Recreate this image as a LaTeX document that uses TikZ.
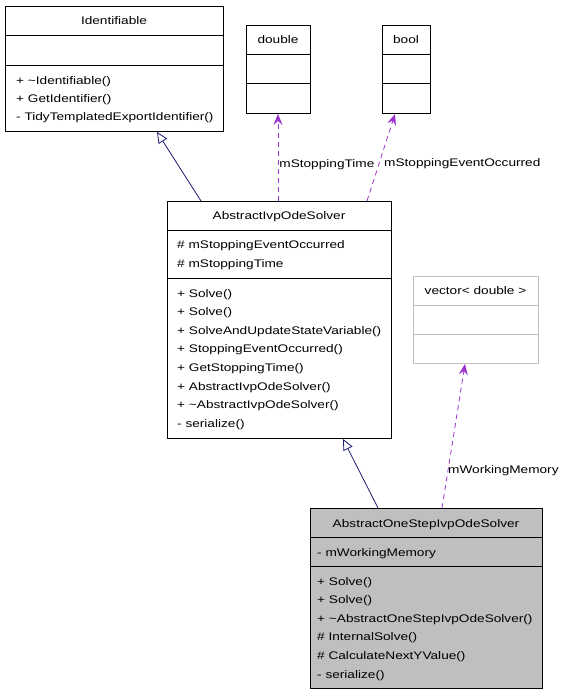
\documentclass[tikz,border=0pt]{standalone}
\usepackage{fontspec}
\setmainfont{Liberation Sans}[FakeStretch=1.24]
\usetikzlibrary{arrows.meta}
\definecolor{inh}{HTML}{191970}
\definecolor{dep}{HTML}{9A32CD}
\definecolor{gfill}{HTML}{BFBFBF}
\begin{document}
\begin{tikzpicture}[x=1pt,y=-1pt,
  every node/.style={font=\fontsize{11}{13}\selectfont, inner sep=0pt},
  umlbox/.style={draw=black, line width=1pt, anchor=north west, fill=white},
  graybox/.style={umlbox, fill=gfill},
  lightbox/.style={umlbox, draw=gfill},
  sep/.style={line width=1pt},
  txt/.style={anchor=base west},
  ttl/.style={anchor=base},
  inhline/.style={draw=inh, line width=0.8pt, -{Triangle[open,length=11pt,width=10pt,fill=white]}},
  depline/.style={draw=dep, line width=0.8pt, dash pattern=on 5pt off 4pt, -{Stealth[length=11pt,width=9pt,inset=4pt]}},
  lbl/.style={anchor=west}]
\useasboundingbox (0,0) rectangle (564,696);

% Identifiable
\node[umlbox, minimum width=218pt, minimum height=125pt] (ident) at (5,6) {};
\draw[sep] (5,35) -- (223,35) (5,65) -- (223,65);
\node[ttl] (identT) at (114,24) {Identifiable};
\node[txt] (identM1) at (16,84) {+ \textasciitilde Identifiable()};
\node[txt] (identM2) at (16,102) {+ GetIdentifier()};
\node[txt] (identM3) at (16,120) {- TidyTemplatedExportIdentifier()};

% double
\node[umlbox, minimum width=64pt, minimum height=88pt] (dbl) at (246,25) {};
\draw[sep] (246,54) -- (310,54) (246,83) -- (310,83);
\node[ttl] (dblT) at (278,43) {double};

% bool
\node[umlbox, minimum width=48pt, minimum height=88pt] (bool) at (382,25) {};
\draw[sep] (382,54) -- (430,54) (382,83) -- (430,83);
\node[ttl] (boolT) at (406,43) {bool};

% AbstractIvpOdeSolver
\node[umlbox, minimum width=224pt, minimum height=237pt] (ivp) at (167,201) {};
\draw[sep] (167,230) -- (391,230) (167,278) -- (391,278);
\node[ttl] (ivpT) at (279,219) {AbstractIvpOdeSolver};
\node[txt] (ivpA1) at (177,248) {\# mStoppingEventOccurred};
\node[txt] (ivpA2) at (177,267) {\# mStoppingTime};
\node[txt] (ivpM1) at (177,297) {+ Solve()};
\node[txt] (ivpM2) at (177,315.6) {+ Solve()};
\node[txt] (ivpM3) at (177,334.2) {+ SolveAndUpdateStateVariable()};
\node[txt] (ivpM4) at (177,352.8) {+ StoppingEventOccurred()};
\node[txt] (ivpM5) at (177,371.4) {+ GetStoppingTime()};
\node[txt] (ivpM6) at (177,390) {+ AbstractIvpOdeSolver()};
\node[txt] (ivpM7) at (177,408.6) {+ \textasciitilde AbstractIvpOdeSolver()};
\node[txt] (ivpM8) at (177,427.2) {- serialize()};

% vector<double>
\node[lightbox, minimum width=125pt, minimum height=87pt] (vec) at (413,276) {};
\draw[sep, draw=gfill] (413,305) -- (538,305) (413,334) -- (538,334);
\node[ttl] (vecT) at (475.5,294) {vector< double >};

% AbstractOneStepIvpOdeSolver
\node[graybox, minimum width=232pt, minimum height=180pt] (one) at (310,508) {};
\draw[sep] (310,537) -- (542,537) (310,566) -- (542,566);
\node[ttl] (oneT) at (426,527) {AbstractOneStepIvpOdeSolver};
\node[txt] (oneA1) at (317,556) {- mWorkingMemory};
\node[txt] (oneM1) at (317,585) {+ Solve()};
\node[txt] (oneM2) at (317,603.6) {+ Solve()};
\node[txt] (oneM3) at (317,622.2) {+ \textasciitilde AbstractOneStepIvpOdeSolver()};
\node[txt] (oneM4) at (317,640.8) {\# InternalSolve()};
\node[txt] (oneM5) at (317,659.4) {\# CalculateNextYValue()};
\node[txt] (oneM6) at (317,678) {- serialize()};

% connectors
\draw[inhline] ([xshift=34pt]ivp.north west) -- ([xshift=152pt]ident.south west);
\draw[inhline] ([xshift=68pt]one.north west) -- ([xshift=176pt]ivp.south west);
\draw[depline] ([xshift=111pt]ivp.north west) -- node[lbl, pos=0.42, xshift=1pt] (lblT) {mStoppingTime} ([xshift=32pt]dbl.south west);
\draw[depline] ([xshift=200pt]ivp.north west) -- ([xshift=13pt]bool.south west);
\node[lbl] (lblE) at (384,164) {mStoppingEventOccurred};
\draw[depline] ([xshift=132pt]one.north west) -- ([xshift=52pt]vec.south west);
\node[lbl] (lblW) at (448,471) {mWorkingMemory};
\end{tikzpicture}
\end{document}
